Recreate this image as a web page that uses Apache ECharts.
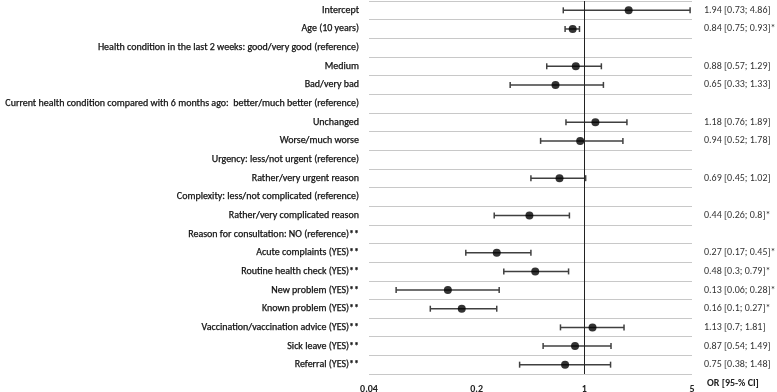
<!DOCTYPE html>
<html>
<head>
<meta charset="utf-8">
<script src="https://cdn.jsdelivr.net/npm/echarts@6/dist/echarts.min.js"></script>
<style>
  html, body { margin: 0; padding: 0; background: #fff; }
  #chart { width: 777px; height: 392px; }
</style>
</head>
<body>
<div id="chart"></div>
<script>
// rows, top to bottom
const categories = [
  "Intercept",
  "Age (10 years)",
  "Health condition in the last 2 weeks: good/very good (reference)",
  "Medium",
  "Bad/very bad",
  "Current health condition compared with 6 months ago:  better/much better (reference)",
  "Unchanged",
  "Worse/much worse",
  "Urgency: less/not urgent (reference)",
  "Rather/very urgent reason",
  "Complexity: less/not complicated (reference)",
  "Rather/very complicated reason",
  "Reason for consultation: NO (reference)**",
  "Acute complaints (YES)**",
  "Routine health check (YES)**",
  "New problem (YES)**",
  "Known problem (YES)**",
  "Vaccination/vaccination advice (YES)**",
  "Sick leave (YES)**",
  "Referral (YES)**"
];
// odds ratios and 95% CI (null = reference row)
const orValues = [1.94, 0.84, null, 0.88, 0.65, null, 1.18, 0.94, null, 0.69, null, 0.44, null, 0.27, 0.48, 0.13, 0.16, 1.13, 0.87, 0.75];
const ciLow    = [0.73, 0.75, null, 0.57, 0.33, null, 0.76, 0.52, null, 0.45, null, 0.26, null, 0.17, 0.3, 0.06, 0.1, 0.7, 0.54, 0.38];
const ciHigh   = [4.86, 0.93, null, 1.29, 1.33, null, 1.89, 1.78, null, 1.02, null, 0.8, null, 0.45, 0.79, 0.28, 0.27, 1.81, 1.49, 1.48];
const significant = [false, true, false, false, false, false, false, false, false, false, false, true, false, true, true, true, true, false, false, false];
const xTicks = [0.04, 0.2, 1, 5];

const labelFont = "Carlito, 'Liberation Sans', sans-serif";

const pointData = [];
const barData = [];
orValues.forEach((v, i) => {
  if (v == null) return;
  pointData.push([v, i]);
  barData.push([ciLow[i], ciHigh[i], i]);
});

const ciText = categories.map((c, i) => {
  if (orValues[i] == null) return "";
  return orValues[i] + " [" + ciLow[i] + "; " + ciHigh[i] + "]" + (significant[i] ? "*" : "");
});

const chart = echarts.init(document.getElementById("chart"));
chart.setOption({
  animation: false,
  grid: { left: 369, right: 85, top: 1, bottom: 18, containLabel: false, outerBoundsMode: "none" },
  xAxis: {
    type: "log",
    logBase: 5,
    min: xTicks[0],
    max: xTicks[xTicks.length - 1],
    splitLine: { show: false },
    axisTick: { show: false },
    axisLine: { lineStyle: { color: "#8c8c8c", width: 2 } },
    axisLabel: {
      margin: 10,
      color: "#222",
      fontFamily: labelFont,
      fontSize: 10,
      fontWeight: "bold",
      formatter: v => {
        const near = xTicks.find(t => Math.abs(t - v) / t < 1e-6);
        return near != null ? String(near) : "";
      }
    }
  },
  yAxis: [
    {
      type: "category",
      data: categories,
      inverse: true,
      axisLine: { show: false },
      axisTick: { show: false },
      splitLine: { show: true, lineStyle: { color: "#c8c8c8", width: 1 } },
      axisLabel: {
        margin: 10,
        color: "#111",
        fontFamily: labelFont,
        fontSize: 10,
        textBorderColor: "#111",
        textBorderWidth: 0.25,
        interval: 0
      }
    },
    {
      type: "category",
      data: categories,
      inverse: true,
      position: "right",
      axisLine: { show: false },
      axisTick: { show: false },
      splitLine: { show: false },
      axisLabel: {
        margin: 12,
        color: "#333",
        fontFamily: labelFont,
        fontSize: 10,
        interval: 0,
        align: "left",
        formatter: (v, i) => ciText[i]
      }
    }
  ],
  graphic: [{
    type: "text",
    left: 707,
    top: 378,
    style: { text: "OR [95-% CI]", font: "bold 10px " + labelFont, fill: "#222" }
  }],
  series: [
    {
      type: "custom",
      data: barData,
      encode: { x: [0, 1], y: 2 },
      z: 3,
      renderItem: (params, api) => {
        const a = api.coord([api.value(0), api.value(2)]);
        const b = api.coord([api.value(1), api.value(2)]);
        const h = 3;
        const st = { stroke: "#404040", lineWidth: 1.5 };
        return {
          type: "group",
          children: [
            { type: "line", shape: { x1: a[0], y1: a[1], x2: b[0], y2: b[1] }, style: st },
            { type: "line", shape: { x1: a[0], y1: a[1] - h, x2: a[0], y2: a[1] + h }, style: st },
            { type: "line", shape: { x1: b[0], y1: b[1] - h, x2: b[0], y2: b[1] + h }, style: st }
          ]
        };
      }
    },
    {
      type: "scatter",
      data: pointData,
      symbol: "circle",
      symbolSize: 8,
      z: 4,
      itemStyle: { color: "#000" },
      markLine: {
        silent: true,
        symbol: "none",
        label: { show: false },
        lineStyle: { color: "#222", width: 1, type: "solid" },
        data: [{ xAxis: 1 }]
      }
    }
  ]
});
</script>
</body>
</html>
